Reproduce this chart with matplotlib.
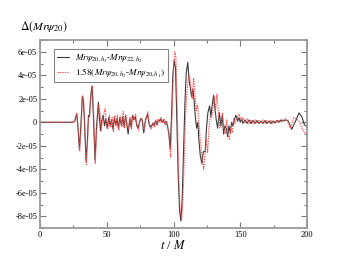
import matplotlib
matplotlib.use("Agg")
import matplotlib.pyplot as plt
from matplotlib.ticker import MultipleLocator

plt.rcParams['font.family'] = ['Liberation Serif', 'DejaVu Serif']
plt.rcParams['mathtext.fontset'] = 'stix'

# Black series: Mr psi_20,h3 - Mr psi_22,h2  (t/M, value in units of 1e-5)
t_black = [0, 25, 26, 27.5, 28.5, 29.5, 30.5, 31.7, 32.5, 33.3,
           34.5, 35.5, 36.3, 37, 38, 39, 40, 41.2, 42.3, 43.7,
           44.6, 45.3, 46.3, 47.3, 48.3, 49.3, 50.3, 51.5, 52.5, 53.5,
           54.7, 55.7, 56.7, 57.7, 58.7, 59.8, 61, 62, 63, 64,
           65, 66, 67.2, 68.2, 69.3, 70.3, 71.3, 72.5, 73.5, 74.5,
           75.5, 76.5, 77.7, 79, 80.5, 81.8, 83, 84.5, 85.5, 86.5,
           87.5, 88.5, 89.5, 90.5, 91.5, 92.5, 93.5, 94.5, 95.5, 96.5,
           97.5, 98.5, 99.5, 100.5, 101.5, 102.5, 103.5, 104.5, 105.5, 106.5,
           107.5, 108.5, 109.5, 110.7, 111.7, 112.5, 113.5, 114.5, 115.3, 116.3,
           117.3, 118.2, 119, 120, 121.2, 122.3, 123.7, 124.7, 125.7, 127,
           128, 129, 130, 131, 132, 133, 134.3, 135.5, 136.5, 137.5,
           138.5, 139.5, 140.5, 141.5, 142.5, 143.5, 144.5, 145.5, 146.8, 148,
           149, 150, 151, 152, 153.5, 155, 156.5, 158, 159.5, 161,
           162.5, 164, 165.5, 167, 168.5, 170, 171.5, 173, 174.5, 176,
           177.5, 179, 180.5, 182, 184, 186, 188.5, 191, 194, 196,
           198, 200]
v_black = [0, 0, 0.1, 0.7, -0.5, -2.3, -0.5, 2.2, 1.9, 0,
           -3.3, -1.5, 0.6, 0.5, 2.3, 3.1, 0.5, -3.2, -0.5, 1.7,
           0.2, -0.7, 0.2, 0.6, -0.3, 0.3, -0.5, 0.4, -0.3, 0.2,
           -0.6, 0.4, -0.2, 0.3, -0.5, 0.4, -0.3, 0.5, -0.4, 0.5,
           -0.1, -1.0, 0.3, -0.4, 0.6, 0.2, 0.5, -0.3, -0.5, 0,
           0.3, 0.2, -0.9, 0.2, 0.7, -0.2, -0.4, -0.1, -0.3, 0.1,
           -0.2, 0.2, 0.1, 0.3, 0, 0.2, -0.1, 0.1, -0.3, -1.0,
           -2.3, 0.5, 4.0, 5.3, 4.6, 0, -4.5, -7.5, -8.4, -6.5,
           -2.5, 1.5, 4.2, 5.1, 3.5, 3.0, 2.2, 2.8, 2.0, 0.5,
           -0.5, 0, -1.5, -2.8, -3.5, -2.5, -2.5, -0.5, 0.8, 1.4,
           0.5, 1.5, 2.3, 1.2, 0.2, -0.5, 0.8, -0.3, 0.6, -1.0,
           -0.3, -0.5, -1.2, -0.3, -0.9, 0, -0.3, 0.2, 0.6, 0.1,
           0.4, 0, 0.3, -0.1, 0.2, -0.1, 0.2, -0.1, 0.15, -0.1,
           0.15, -0.1, 0.1, -0.1, 0.15, -0.1, 0.1, -0.1, 0.1, -0.05,
           0.15, 0, 0.2, 0.1, 0.2, 0.1, -0.6, 0, 0.8, 0.5,
           -0.2, -0.4]

# Red series: 1.58 (Mr psi_20,h2 - Mr psi_20,h1)  (t/M, value in units of 1e-5)
t_red = [0, 25, 26, 27.5, 28.5, 29.7, 30.7, 31.8, 32.5, 33.4,
         34.7, 35.6, 36.4, 37.2, 38.2, 39.2, 40.2, 41.4, 42.5, 44,
         45, 45.8, 47, 48.7, 49.8, 50.8, 52, 53, 54, 55,
         56, 57, 58, 59, 60.2, 61.3, 62.3, 63.3, 64.3, 65.3,
         66.3, 67.5, 68.5, 69.6, 70.6, 71.6, 72.8, 73.8, 74.8, 75.8,
         76.8, 78, 79.3, 80.8, 82, 83.3, 84.8, 85.8, 86.8, 87.8,
         88.8, 89.8, 90.8, 91.8, 92.8, 93.8, 94.8, 95.8, 96.8, 97.8,
         98.8, 99.8, 101, 101.8, 102.8, 103.8, 104.8, 106, 107, 108,
         109, 110, 111, 112, 113, 114, 115, 116, 117, 118,
         119, 120, 121.2, 122.5, 123.5, 124.5, 125.5, 126.5, 127.5, 128.5,
         129.5, 130.5, 131.5, 132.5, 133.5, 134.7, 135.8, 136.8, 137.8, 138.8,
         139.8, 140.8, 141.8, 142.8, 144, 145, 146, 147.5, 149, 150.5,
         152, 153.5, 155, 156.5, 158, 159.5, 161, 162.5, 164, 165.5,
         167, 168.5, 170, 171.5, 173, 174.5, 176, 177.5, 179, 180.5,
         182, 184, 185.5, 187.5, 190, 192, 194, 197, 199, 200]
v_red = [0, 0, 0.1, 0.8, -0.5, -2.5, -0.6, 2.3, 2.0, 0,
         -3.6, -1.7, 0.5, 0.6, 2.4, 3.1, 0.6, -3.5, -0.7, 1.5,
         0.8, -0.8, 0.3, 1.15, -0.2, -0.6, 0.6, -0.4, 0.4, -0.8,
         0.6, -0.3, 0.6, -0.7, 0.5, -0.4, 0.9, -0.5, 0.6, -0.5,
         -0.6, 0.4, -0.6, 0.5, 0.3, 0.7, -0.4, -0.7, 0.1, 0.4,
         0, -0.6, 0.3, 0.9, -0.4, -0.6, 0, -0.4, 0.2, -0.3,
         0.3, 0, 0.4, -0.1, 0.3, -0.2, 0.1, -0.5, -1.3, -3.0,
         0.2, 4.0, 6.0, 5.5, 1.0, -4.0, -7.3, -8.3, -6.8, -3.0,
         0.5, 2.5, 3.8, 4.0, 3.0, 2.0, 3.8, 2.5, 1.0, 1.5,
         0, -1.5, -2.8, -4.0, -2.8, -1.5, -2.6, -0.5, 0.5, 0.4,
         1.2, 2.2, 1.0, 2.4, 1.0, -0.5, -0.2, 0.8, -0.6, -1.0,
         0.2, -1.0, -1.5, -0.5, -0.9, 0.3, -0.1, 0.4, 0.7, 0.2,
         0.4, 0, 0.3, -0.1, 0.2, -0.1, 0.2, -0.1, 0.15, -0.1,
         0.2, -0.1, 0.15, -0.1, 0.2, -0.1, 0.1, 0, 0.2, 0,
         0.2, 0.3, 0.1, -0.5, 0.4, 0.3, 0.1, -0.7, -1.0, -0.9]

legend_labels = [r'$Mr\psi_{20,h_3}$-$Mr\psi_{22,h_2}$',
                 r'$\mathit{1.58}(Mr\psi_{20,h_2}$-$Mr\psi_{20,h_1})$']

scale = 1e-5
fig = plt.figure(figsize=(3.45, 2.67), dpi=100)
ax = fig.add_axes([0.116, 0.146, 0.774, 0.704])

ax.plot(t_black, [v * scale for v in v_black], color='#3a3a3a', lw=0.8, label=legend_labels[0])
ax.plot(t_red, [v * scale for v in v_red], color='#ff4848', lw=0.8, ls=(0, (1.2, 1.0)),
        label=legend_labels[1])

ax.set_xlim(0, 200)
ax.set_ylim(-9e-5, 7e-5)
ax.xaxis.set_minor_locator(MultipleLocator(25))
ax.yaxis.set_minor_locator(MultipleLocator(1e-5))
ax.set_yticks([-8e-5, -6e-5, -4e-5, -2e-5, 0, 2e-5, 4e-5, 6e-5])
ax.set_yticklabels(['-8e-05', '-6e-05', '-4e-05', '-2e-05', '0', '2e-05', '4e-05', '6e-05'])
ax.set_xticks([0, 50, 100, 150, 200])
ax.set_xticklabels(['0', '50', '100', '150', '200'])

ax.tick_params(which='both', direction='in', top=True, right=True, labelsize=6,
               color='#777777', pad=2)
ax.tick_params(which='major', length=4, width=0.8)
ax.tick_params(which='minor', length=2.5, width=0.8)
for s in ax.spines.values():
    s.set_color('#999999')
    s.set_linewidth(1.3)

ax.set_xlabel(r'$t$ / $M$', fontsize=9, labelpad=0)
fig.text(0.058, 0.873, r'$\Delta(Mr\psi_{20})$', fontsize=8.5, ha='left', va='bottom')

leg = ax.legend(loc='upper left', bbox_to_anchor=(0.035, 0.975), fontsize=6.6, frameon=True,
                fancybox=False, edgecolor='#666666', handlelength=1.3, borderpad=0.35,
                labelspacing=0.25, handletextpad=0.7)
leg.get_frame().set_linewidth(0.8)

fig.savefig('out.png', dpi=100)
